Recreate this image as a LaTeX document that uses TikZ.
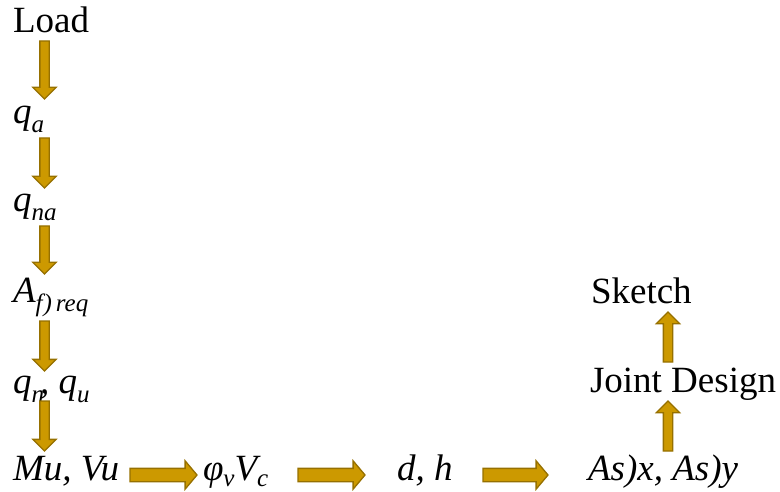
\documentclass[tikz,border=0pt]{standalone}
\usepackage{fontspec}
\setmainfont{Liberation Serif}
\usetikzlibrary{shapes.arrows,calc}

\definecolor{gold}{RGB}{204,153,0}
\definecolor{goldline}{RGB}{150,112,0}

% lowered italic subscript in text mode (optional drop)
\newcommand\lowsub[2][9pt]{\raisebox{-#1}{\fontsize{25}{25}\selectfont\itshape #2}}

% block arrow drawn from one named coordinate to another
\newcommand\flowarrow[4][]{%
  \path let \p1=($(#4)-(#3)$), \n1={veclen(\x1,\y1)}, \n2={atan2(\y1,\x1)} in
    node[#1, minimum height=\n1, rotate=\n2, anchor=tail] (#2) at (#3) {};}

\tikzset{
  label/.style={anchor=base west, inner sep=0pt, outer sep=0pt,
    font=\fontsize{37}{44}\selectfont},
  mathlabel/.style={label, font=\fontsize{37}{44}\selectfont\itshape},
  blockarrow/.style={single arrow, draw=goldline, fill=gold, line width=1.3pt,
    inner xsep=0pt, outer sep=0pt, single arrow head indent=0pt},
  varrow/.style={blockarrow, inner ysep=4pt, single arrow head extend=7pt,
    single arrow tip angle=90},
  harrow/.style={blockarrow, inner ysep=6pt, single arrow head extend=7.5pt,
    single arrow tip angle=100},
}

\begin{document}
\begin{tikzpicture}[x=1pt,y=-1pt]
\useasboundingbox (0,0) rectangle (780,492);

% vertical chain
\node[label]     (load) at (13,33)  {Load};
\node[mathlabel] (qa)   at (13,124) {q\lowsub{a}};
\node[mathlabel] (qna)  at (13,212) {q\lowsub{na}};
\node[mathlabel] (af)   at (13,302) {A\lowsub{f\kern1pt)\kern4pt req}};
\node[mathlabel] (qnu)  at (13,393) {q\lowsub{n}\kern-4pt, q\lowsub{u}};
\node[mathlabel] (muvu) at (13,480) {Mu, Vu};

% bottom row
\node[mathlabel] (phiv) at (203,480) {φ\lowsub[6pt]{v}V\lowsub[6pt]{c}};
\node[mathlabel] (dh)   at (397,480) {d, h};
\node[mathlabel] (asxy) at (588,480) {As)x, As)y};

% right column
\node[label] (joint)  at (590,392) {Joint Design};
\node[label] (sketch) at (591,303) {Sketch};

% arrow end points
\coordinate (a1s) at (44.5,41);  \coordinate (a1e) at (44.5,99);
\coordinate (a2s) at (44.5,138); \coordinate (a2e) at (44.5,188);
\coordinate (a3s) at (44.5,226); \coordinate (a3e) at (44.5,274);
\coordinate (a4s) at (44.5,321); \coordinate (a4e) at (44.5,371);
\coordinate (a5s) at (44.5,401); \coordinate (a5e) at (44.5,451);
\coordinate (h1s) at (130,475);  \coordinate (h1e) at (197,475);
\coordinate (h2s) at (298,475);  \coordinate (h2e) at (365,475);
\coordinate (h3s) at (483,475);  \coordinate (h3e) at (548,475);
\coordinate (u1s) at (668,451);  \coordinate (u1e) at (668,401);
\coordinate (u2s) at (668,362);  \coordinate (u2e) at (668,312);

\flowarrow[varrow]{arrA}{a1s}{a1e}
\flowarrow[varrow]{arrB}{a2s}{a2e}
\flowarrow[varrow]{arrC}{a3s}{a3e}
\flowarrow[varrow]{arrD}{a4s}{a4e}
\flowarrow[varrow]{arrE}{a5s}{a5e}
\flowarrow[harrow]{arrF}{h1s}{h1e}
\flowarrow[harrow]{arrG}{h2s}{h2e}
\flowarrow[harrow]{arrH}{h3s}{h3e}
\flowarrow[varrow]{arrI}{u1s}{u1e}
\flowarrow[varrow]{arrJ}{u2s}{u2e}
\end{tikzpicture}
\end{document}
